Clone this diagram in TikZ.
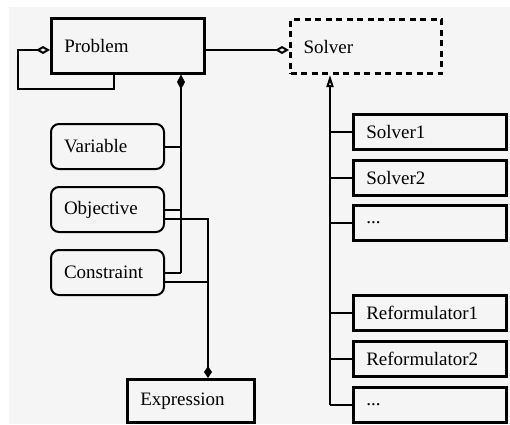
\documentclass[tikz,border=0pt]{standalone}
\usepackage{fontspec}
\setmainfont{Liberation Serif}
\usetikzlibrary{calc,arrows.meta}
\definecolor{bggray}{HTML}{F5F5F5}
\tikzset{
  cls/.style={draw, line width=2.5pt, anchor=north west, inner xsep=13pt, align=left, font=\fontsize{19}{21}\selectfont},
  rcls/.style={cls, line width=2pt, rounded corners=8pt},
  link/.style={line width=2pt},
}

\begin{document}
\begin{tikzpicture}[x=1pt,y=-1pt]
            % canvas
            \useasboundingbox (0,0) rectangle (510,424);
            \fill[bggray] (9,7) rectangle (510,424);
            % coordinates
            \coordinate (agg) at (0,50); % aggregation level
            \coordinate (loop) at (18,89); % self loop corner
            \coordinate (bus) at (181,0); % composition bus
            \coordinate (exbus) at (208,0); % expression bus
            \coordinate (gen) at (330,0); % generalisation bus
            % main classes
            \node[cls, text width=127pt, minimum height=55pt] (Problem) at (50,17) {Problem};
            \node[cls, line width=3pt, dash pattern=on 6pt off 4.5pt, text width=125pt, minimum height=54pt] (Solver) at (289,18) {Solver};
            \node[cls, text width=101pt, minimum height=43pt] (Expression) at (126,378) {Expression};
            % parts of a problem
            \foreach \n/\y in {Variable/123, Objective/186, Constraint/249} {
                \node[rcls, text width=87pt, minimum height=45pt] (\n) at (50,\y) {\n};
            }
            % self loop
            \draw[link, -{Diamond[open, length=14pt, width=8pt]}] ($(Problem.south)+(-13.5,0)$) |- (loop) |- (Problem.west |- agg);
            % problem uses solver
            \draw[link, -{Diamond[open, length=14pt, width=8pt]}] (Problem.east |- agg) -- (Solver.west |- agg);
            % composition
            \draw[link, {Diamond[length=15pt, width=8pt]}-] (Problem.south -| bus) -- (bus |- Constraint.east);
            \foreach \n in {Variable, Objective, Constraint} {
                \draw[link] (\n.east) -- (\n.east -| bus);
            }
            % expressions
            \draw[link, -{Diamond[length=12pt, width=8pt]}] ([yshift=-9pt]Objective.east) -| (Expression.north -| exbus);
            \draw[link] ([yshift=-9pt]Constraint.east) -- ([yshift=-9pt]Constraint.east -| exbus);
            % subclasses of solver
            \foreach \n/\t/\y in {s1/Solver1/113, s2/Solver2/159, s3/{...}/204, r1/Reformulator1/294, r2/Reformulator2/340, r3/{...}/386} {
                \node[cls, text width=127pt, minimum height=35pt] (\n) at (352,\y) {\t};
                \draw[link] (\n.west) -- (\n.west -| gen);
            }
            % generalisation
            \draw[link, -{Triangle[open, length=12pt, width=7pt]}] (gen |- r3.west) -- (Solver.south -| gen);
        \end{tikzpicture}
\end{document}
